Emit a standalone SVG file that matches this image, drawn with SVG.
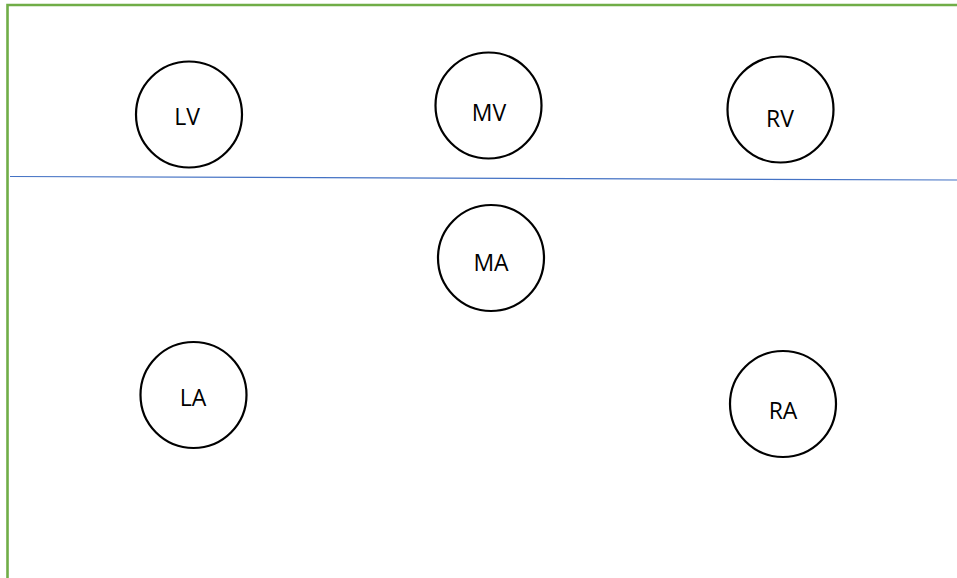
<svg xmlns="http://www.w3.org/2000/svg" width="957" height="578" viewBox="0 0 957 578">
<style>
.n circle{fill:#fff;stroke:#000;stroke-width:2.2}
.n text{font-family:"Open Sans","Liberation Sans",sans-serif;font-size:23px;fill:#000;text-anchor:middle}
</style>
<rect width="957" height="578" fill="#fff"/>
<g id="frame">
<path d="M7.5,578 V5 H957" fill="none" stroke="#70AD47" stroke-width="2.6"/>
</g>
<g id="connectors">
<line x1="10" y1="176.5" x2="957" y2="180" stroke="#4472C4" stroke-width="1.2"/>
</g>
<g id="LV" class="n"><circle cx="189" cy="114.5" r="53"/><text x="187" y="124.5">LV</text></g>
<g id="MV" class="n"><circle cx="488.5" cy="105.5" r="53"/><text x="489" y="120.5">MV</text></g>
<g id="RV" class="n"><circle cx="780.5" cy="109.5" r="53"/><text x="780" y="126.5">RV</text></g>
<g id="MA" class="n"><circle cx="491" cy="258" r="53"/><text x="491" y="270.5">MA</text></g>
<g id="LA" class="n"><circle cx="193.5" cy="395" r="53"/><text x="193" y="405.5">LA</text></g>
<g id="RA" class="n"><circle cx="783" cy="404" r="53"/><text x="783" y="418.5">RA</text></g>
</svg>
